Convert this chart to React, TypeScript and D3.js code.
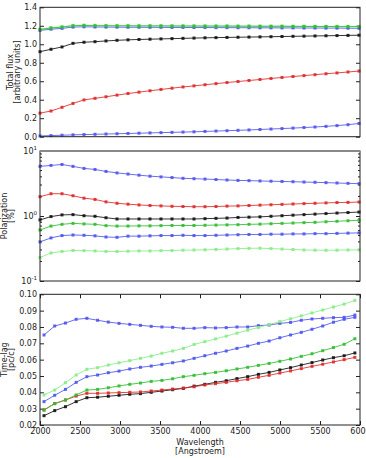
import React, { useEffect, useRef } from 'react'
import * as d3 from 'd3'

// sampled wavelengths [Angstroem]
const wavelength = [2050, 2184, 2318, 2452, 2586, 2720, 2854, 2988, 3122, 3256, 3390, 3524, 3658, 3792, 3926,
  4060, 4194, 4328, 4462, 4596, 4730, 4864, 4998, 5132, 5266, 5400, 5534, 5668, 5802, 5936]

// total flux [arbitrary units]
const fluxBlack = [0.92, 0.946, 0.971, 1.01, 1.022, 1.028, 1.036, 1.043, 1.048, 1.052, 1.055, 1.058, 1.061, 1.064, 1.067,
  1.07, 1.072, 1.074, 1.076, 1.078, 1.08, 1.082, 1.084, 1.086, 1.088, 1.09, 1.092, 1.094, 1.096, 1.098]
const fluxRed = [0.255, 0.278, 0.318, 0.36, 0.398, 0.415, 0.432, 0.45, 0.467, 0.482, 0.497, 0.511, 0.525, 0.538, 0.55,
  0.562, 0.574, 0.586, 0.597, 0.608, 0.619, 0.63, 0.641, 0.651, 0.661, 0.671, 0.681, 0.69, 0.7, 0.71]
const fluxBlue1 = [0.008, 0.012, 0.016, 0.02, 0.023, 0.026, 0.029, 0.032, 0.035, 0.038, 0.041, 0.044, 0.047, 0.05, 0.053,
  0.057, 0.061, 0.065, 0.069, 0.073, 0.078, 0.083, 0.088, 0.093, 0.099, 0.105, 0.112, 0.12, 0.13, 0.143]
const fluxBlue2 = [1.15, 1.163, 1.172, 1.186, 1.189, 1.187, 1.186, 1.185, 1.184, 1.184, 1.183, 1.183, 1.182, 1.182, 1.181,
  1.181, 1.18, 1.18, 1.179, 1.179, 1.178, 1.178, 1.177, 1.177, 1.176, 1.176, 1.175, 1.175, 1.174, 1.173]
const fluxGreen = [1.16, 1.176, 1.186, 1.2, 1.204, 1.201, 1.2, 1.199, 1.199, 1.198, 1.198, 1.198, 1.197, 1.197, 1.197,
  1.196, 1.196, 1.196, 1.195, 1.195, 1.194, 1.194, 1.194, 1.193, 1.193, 1.192, 1.192, 1.191, 1.191, 1.19]
const fluxLightGreen = [1.165, 1.18, 1.19, 1.204, 1.207, 1.205, 1.204, 1.203, 1.203, 1.202, 1.202, 1.201, 1.201, 1.2, 1.2,
  1.2, 1.199, 1.199, 1.198, 1.198, 1.198, 1.197, 1.197, 1.196, 1.196, 1.195, 1.195, 1.195, 1.194, 1.194]

// polarization [%]
const polBlack = [0.87, 0.98, 1.04, 1.05, 1.01, 0.99, 0.94, 0.9, 0.9, 0.9, 0.9, 0.9, 0.9, 0.9, 0.9,
  0.91, 0.92, 0.93, 0.95, 0.96, 0.97, 0.99, 1.01, 1.03, 1.05, 1.07, 1.09, 1.11, 1.13, 1.15]
const polRed = [1.98, 2.2, 2.2, 2.05, 1.88, 1.8, 1.65, 1.57, 1.52, 1.48, 1.45, 1.43, 1.41, 1.4, 1.39,
  1.39, 1.4, 1.42, 1.43, 1.45, 1.47, 1.49, 1.51, 1.53, 1.55, 1.57, 1.59, 1.61, 1.62, 1.64]
const polBlue1 = [5.8, 6.0, 6.2, 5.8, 5.4, 5.2, 4.85, 4.6, 4.42, 4.25, 4.1, 4.0, 3.9, 3.8, 3.75,
  3.7, 3.64, 3.58, 3.53, 3.5, 3.46, 3.43, 3.4, 3.37, 3.33, 3.3, 3.26, 3.22, 3.18, 3.14]
const polBlue2 = [0.4, 0.46, 0.5, 0.51, 0.505, 0.495, 0.475, 0.47, 0.49, 0.49, 0.495, 0.5, 0.5, 0.505, 0.5,
  0.5, 0.505, 0.51, 0.515, 0.52, 0.52, 0.525, 0.525, 0.53, 0.53, 0.535, 0.535, 0.54, 0.545, 0.55]
const polGreen = [0.61, 0.7, 0.745, 0.77, 0.755, 0.745, 0.71, 0.7, 0.7, 0.705, 0.705, 0.71, 0.715, 0.715, 0.715,
  0.72, 0.725, 0.73, 0.735, 0.745, 0.75, 0.76, 0.77, 0.78, 0.79, 0.8, 0.815, 0.83, 0.845, 0.86]
const polLightGreen = [0.23, 0.27, 0.285, 0.295, 0.293, 0.29, 0.285, 0.285, 0.287, 0.29, 0.29, 0.293, 0.295, 0.298, 0.3,
  0.302, 0.305, 0.31, 0.315, 0.318, 0.32, 0.315, 0.31, 0.305, 0.3, 0.298, 0.297, 0.298, 0.3, 0.302]

// time-lag [pc/c]
const lagBlack = [0.0257, 0.0288, 0.0312, 0.0343, 0.0367, 0.037, 0.0376, 0.0382, 0.0388, 0.0392, 0.04, 0.0408, 0.0416, 0.0424,
  0.0438, 0.0449, 0.0461, 0.0471, 0.0484, 0.0496, 0.051, 0.0522, 0.0537, 0.0551, 0.0567, 0.0582, 0.0598, 0.0612, 0.0624, 0.0641]
const lagRed = [0.0292, 0.0331, 0.0353, 0.0377, 0.0394, 0.0394, 0.0396, 0.0398, 0.04, 0.0402, 0.0408, 0.0414, 0.042, 0.0426,
  0.0434, 0.0445, 0.0453, 0.0461, 0.0471, 0.0479, 0.0492, 0.0504, 0.0518, 0.0531, 0.0545, 0.0559, 0.0572, 0.0586, 0.06, 0.0614]
const lagBlue1 = [0.0751, 0.0806, 0.0824, 0.0847, 0.0853, 0.0841, 0.083, 0.0822, 0.0816, 0.081, 0.0804, 0.08, 0.0798, 0.0792,
  0.0792, 0.0796, 0.0794, 0.0796, 0.08, 0.08, 0.0808, 0.0812, 0.0822, 0.0828, 0.0841, 0.0849, 0.0853, 0.0857, 0.0859, 0.0873]
const lagBlue2 = [0.0343, 0.0382, 0.0418, 0.0461, 0.0496, 0.0506, 0.052, 0.053, 0.0543, 0.0553, 0.0561, 0.0571, 0.0581, 0.0592,
  0.0608, 0.0624, 0.0639, 0.0653, 0.0669, 0.0683, 0.07, 0.0714, 0.0734, 0.0751, 0.0767, 0.0786, 0.0806, 0.0829, 0.0847, 0.0859]
const lagGreen = [0.0292, 0.0331, 0.0353, 0.0384, 0.0414, 0.0418, 0.0428, 0.0439, 0.0449, 0.0457, 0.0467, 0.0473, 0.0483, 0.0496,
  0.0504, 0.0514, 0.0522, 0.0532, 0.0543, 0.0553, 0.0565, 0.0577, 0.059, 0.0604, 0.062, 0.0636, 0.0655, 0.0674, 0.0694, 0.0728]
const lagLightGreen = [0.0384, 0.0414, 0.0459, 0.0506, 0.0541, 0.0551, 0.0567, 0.0581, 0.0594, 0.0608, 0.0622, 0.0639, 0.0653, 0.0669,
  0.0693, 0.071, 0.0727, 0.0744, 0.0762, 0.078, 0.0797, 0.0815, 0.0833, 0.085, 0.0868, 0.0886, 0.0904, 0.0922, 0.094, 0.0963]

const seriesColors = ['#111111', '#e02828', '#5252ee', '#4a55ee', '#2fbd2f', '#86ec86']

const fluxSeries = [fluxBlack, fluxRed, fluxBlue1, fluxBlue2, fluxLightGreen, fluxGreen]
const fluxColors = [0, 1, 2, 3, 5, 4]
const polSeries = [polBlack, polRed, polBlue1, polBlue2, polGreen, polLightGreen]
const lagSeries = [lagBlack, lagRed, lagBlue1, lagBlue2, lagGreen, lagLightGreen]

const xTicks = [2000, 2500, 3000, 3500, 4000, 4500, 5000, 5500, 6000]
const fluxTicks = [0, 0.2, 0.4, 0.6, 0.8, 1.0, 1.2, 1.4]
const lagTicks = [0.02, 0.03, 0.04, 0.05, 0.06, 0.07, 0.08, 0.09, 0.10]

const W = 366, H = 458
const left = 40, right = 360
const font = 'DejaVu Sans, sans-serif'

function drawSeries(g, x, y, data, colorIdx) {
  data.forEach((vals, k) => {
    const color = seriesColors[colorIdx ? colorIdx[k] : k]
    const pts = vals.map((v, i) => [wavelength[i], v])
    g.append('path')
      .attr('d', d3.line().x(d => x(d[0])).y(d => y(d[1]))(pts))
      .attr('fill', 'none').attr('stroke', color).attr('stroke-width', 1).attr('stroke-opacity', 0.85)
    g.selectAll(null).data(pts).join('rect')
      .attr('x', d => x(d[0]) - 1.5).attr('y', d => y(d[1]) - 1.5)
      .attr('width', 3).attr('height', 3)
      .attr('fill', color).attr('fill-opacity', 0.9)
  })
}

function frame(g, top, bottom) {
  g.append('rect').attr('x', left).attr('y', top)
    .attr('width', right - left).attr('height', bottom - top)
    .attr('fill', 'none').attr('stroke', '#222').attr('stroke-width', 1)
}

function yAxes(g, y, ticks, fmt) {
  const la = g.append('g').attr('transform', `translate(${left},0)`)
    .call(d3.axisLeft(y).tickValues(ticks).tickSize(-4).tickPadding(3).tickFormat(fmt))
  la.select('.domain').remove()
  la.selectAll('text').attr('font-family', font).attr('font-size', 8).attr('fill', '#222')
  la.selectAll('line').attr('stroke', '#222')
  const ra = g.append('g').attr('transform', `translate(${right},0)`)
    .call(d3.axisRight(y).tickValues(ticks).tickSize(-4).tickFormat(() => ''))
  ra.select('.domain').remove()
  ra.selectAll('line').attr('stroke', '#222')
}

function yTitle(svg, lines, xs, cy) {
  lines.forEach((t, i) => {
    svg.append('text').attr('transform', `translate(${xs[i]},${cy}) rotate(-90)`)
      .attr('text-anchor', 'middle').attr('font-family', font).attr('font-size', 8).attr('fill', '#222')
      .text(t)
  })
}

export default function App() {
  const ref = useRef(null)

  useEffect(() => {
    const svg = d3.select(ref.current)
    svg.selectAll('*').remove()
    svg.append('rect').attr('width', W).attr('height', H).attr('fill', '#fff')

    // shared x scales: upper panels span the data, lower panel spans 2000-6000
    const xData = d3.scaleLinear().domain(d3.extent(wavelength)).range([left, right - 1])
    const xFull = d3.scaleLinear().domain([2000, 6000]).range([left, right])

    // panel 1: total flux
    const p1 = { top: 7.3, bottom: 136.7 }
    const y1 = d3.scaleLinear().domain([0, 1.4]).range([p1.bottom, p1.top])
    const g1 = svg.append('g')
    yAxes(g1, y1, fluxTicks, d3.format('.1f'))
    drawSeries(g1, xData, y1, fluxSeries, fluxColors)
    frame(g1, p1.top, p1.bottom)
    yTitle(svg, ['Total flux', '[arbitrary units]'], [12.5, 19.5], (p1.top + p1.bottom) / 2)

    // panel 2: polarization, log scale
    const p2 = { top: 151, bottom: 281 }
    const y2 = d3.scaleLog().domain([0.1, 10]).range([p2.bottom, p2.top])
    const g2 = svg.append('g')
    const minor = []
    ;[0.1, 1].forEach(d => { for (let m = 2; m <= 9; m++) minor.push(d * m) })
    g2.selectAll(null).data(minor).join('line')
      .attr('x1', left).attr('x2', left + 2).attr('y1', d => y2(d)).attr('y2', d => y2(d)).attr('stroke', '#222')
    g2.selectAll(null).data(minor).join('line')
      .attr('x1', right - 2).attr('x2', right).attr('y1', d => y2(d)).attr('y2', d => y2(d)).attr('stroke', '#222')
    yAxes(g2, y2, [0.1, 1, 10], () => '')
    const major = [[0.1, '-1'], [1, '0'], [10, '1']]
    major.forEach(([v, e]) => {
      const t = g2.append('text').attr('x', left - 3).attr('y', y2(v) + 3)
        .attr('text-anchor', 'end').attr('font-family', font).attr('font-size', 8).attr('fill', '#222')
      t.append('tspan').text('10')
      t.append('tspan').attr('dy', -4).attr('font-size', 5.5).text(e)
    })
    drawSeries(g2, xData, y2, polSeries, null)
    frame(g2, p2.top, p2.bottom)
    g2.append('line').attr('x1', left).attr('x2', right).attr('y1', p2.top).attr('y2', p2.top)
      .attr('stroke', '#888').attr('stroke-width', 2)
    yTitle(svg, ['Polarization', '[%]'], [6.5, 14], (p2.top + p2.bottom) / 2)

    // panel 3: time-lag
    const p3 = { top: 294.3, bottom: 425 }
    const y3 = d3.scaleLinear().domain([0.02, 0.10]).range([p3.bottom, p3.top])
    const g3 = svg.append('g')
    yAxes(g3, y3, lagTicks, d3.format('.2f'))
    const bx = g3.append('g').attr('transform', `translate(0,${p3.bottom})`)
      .call(d3.axisBottom(xFull).tickValues(xTicks).tickSize(-4).tickPadding(3).tickFormat(d3.format('d')))
    bx.select('.domain').remove()
    bx.selectAll('text').attr('font-family', font).attr('font-size', 8).attr('fill', '#222')
    bx.selectAll('line').attr('stroke', '#222')
    const tx = g3.append('g').attr('transform', `translate(0,${p3.top})`)
      .call(d3.axisTop(xFull).tickValues(xTicks).tickSize(-4).tickFormat(() => ''))
    tx.select('.domain').remove()
    tx.selectAll('line').attr('stroke', '#222')
    drawSeries(g3, xFull, y3, lagSeries, null)
    frame(g3, p3.top, p3.bottom)
    yTitle(svg, ['Time-lag', '[pc/c]'], [6.5, 14], (p3.top + p3.bottom) / 2)

    svg.append('text').attr('x', 200).attr('y', 444.5).attr('text-anchor', 'middle')
      .attr('font-family', font).attr('font-size', 8).attr('fill', '#222').text('Wavelength')
    svg.append('text').attr('x', 200).attr('y', 454).attr('text-anchor', 'middle')
      .attr('font-family', font).attr('font-size', 8).attr('fill', '#222').text('[Angstroem]')
  }, [])

  return (
    <svg ref={ref} width={W} height={H} style={{ position: 'absolute', left: 0, top: 0 }} />
  )
}
